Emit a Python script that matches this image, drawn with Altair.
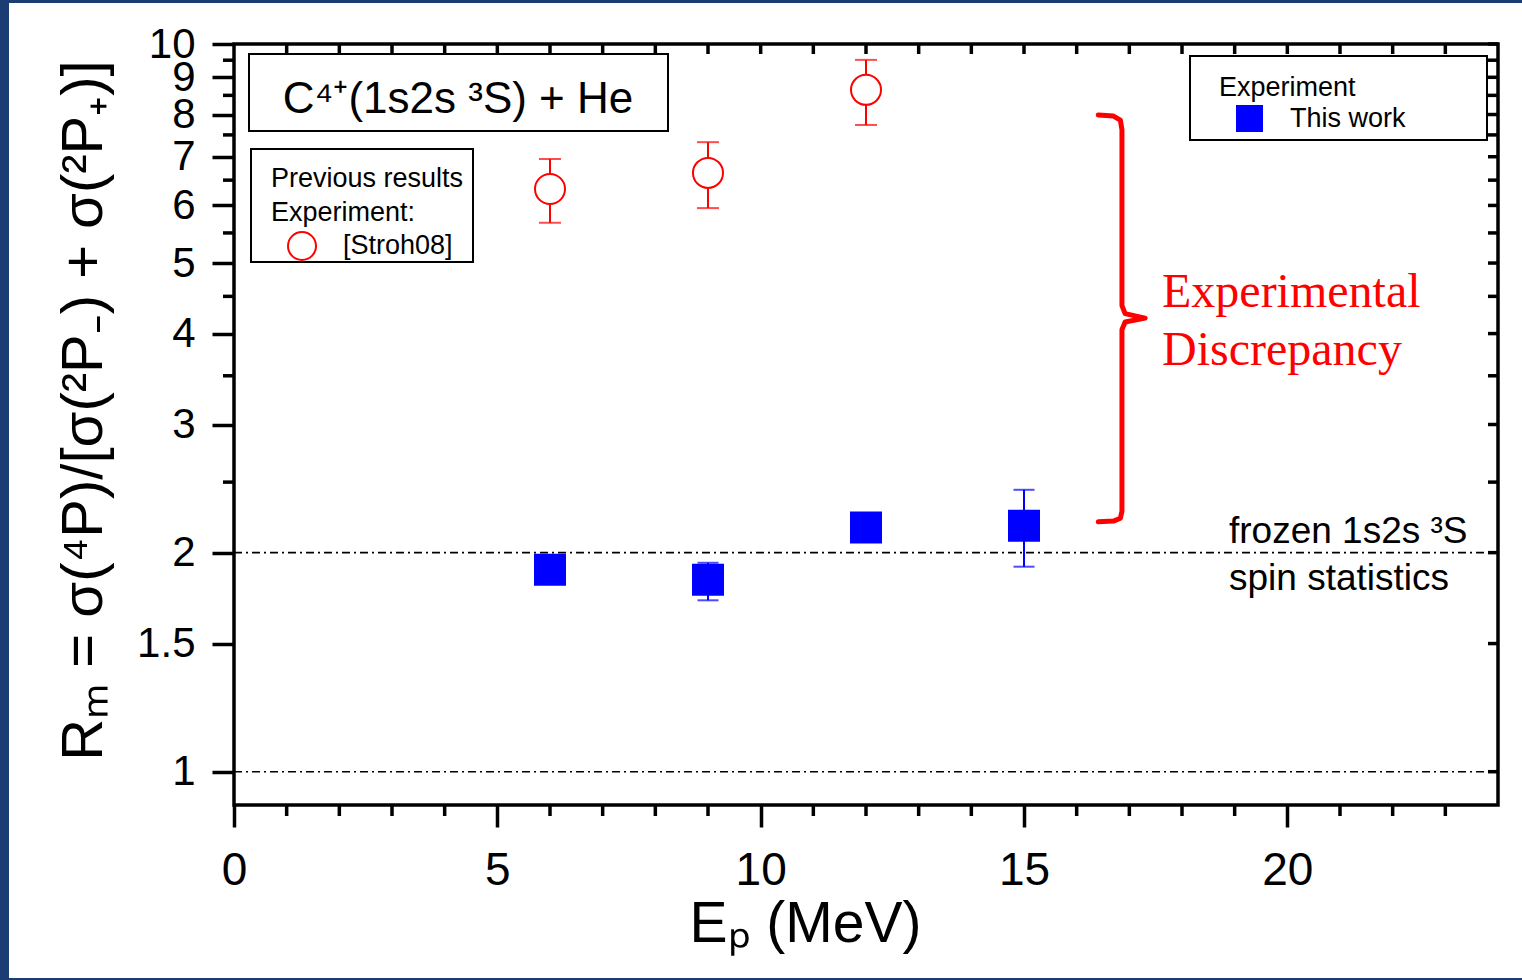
import altair as alt
import pandas as pd

# ---------------- data ----------------
stroh_E = [6, 9, 12]
stroh_R = [6.32, 6.65, 8.65]
stroh_lo = [5.68, 5.95, 7.74]
stroh_hi = [6.95, 7.33, 9.51]

this_E = [6, 9, 12, 15]
this_R = [1.895, 1.835, 2.165, 2.177]
this_lo = [1.85, 1.72, 2.12, 1.913]
this_hi = [1.94, 1.937, 2.21, 2.44]

ref_levels = [1, 2]

x_major = [0, 5, 10, 15, 20]
x_minor = [1, 2, 3, 4, 6, 7, 8, 9, 11, 12, 13, 14, 16, 17, 18, 19, 21, 22, 23]
x_top = [1, 2, 3, 4, 5, 6, 7, 8, 9, 10, 11, 12, 13, 14, 15, 16, 17, 18, 19, 20, 21, 22, 23]
y_major = [1, 1.5, 2, 3, 4, 5, 6, 7, 8, 9, 10]
y_minor = [2.5, 3.5, 4.5, 5.5, 6.5, 7.5, 8.5, 9.5]

brace_x = [16.41, 16.70, 16.83, 16.86, 16.86, 16.92, 17.30, 16.92, 16.86, 16.86, 16.83, 16.70, 16.41]
brace_y = [7.99, 7.96, 7.86, 7.62, 4.37, 4.26, 4.20, 4.15, 4.05, 2.28, 2.23, 2.21, 2.205]

W, H = 1264, 761
SANS = "Liberation Sans"
SERIF = "Liberation Serif"

xs = alt.Scale(domain=[0, 24], nice=False, zero=False)
ys = alt.Scale(type="log", domain=[0.9, 10], nice=False)

xaxis = alt.Axis(values=x_major, format="~g", tickSize=22, labelFontSize=46,
                 labelPadding=21, labelFlush=False, labelOverlap=False,
                 title="Eₚ (MeV)", titleFontSize=57, titleX=571, titleY=136,
                 titleAlign="center", titleBaseline="alphabetic")
yaxis = alt.Axis(values=y_major, format="~g", tickSize=22, labelFontSize=42,
                 labelPadding=17, labelOverlap=False,
                 title="Rₘ = σ(⁴P)/[σ(²P₋) + σ(²P₊)]", titleFontSize=58,
                 titleAngle=270, titleX=-133, titleY=366, titleAlign="center",
                 titleBaseline="alphabetic")


def X(f):
    return alt.X(f, type="quantitative", scale=xs, axis=xaxis)


def Y(f):
    return alt.Y(f, type="quantitative", scale=ys, axis=yaxis)


one = pd.DataFrame({"a": [0]})

stroh = pd.DataFrame({"x": stroh_E, "y": stroh_R, "lo": stroh_lo, "hi": stroh_hi,
                      "s": ["[Stroh08]"] * len(stroh_E)})
this = pd.DataFrame({"x": this_E, "y": this_R, "lo": this_lo, "hi": this_hi,
                     "s": ["This work"] * len(this_E)})

# blue frame strips (page decoration)
strips = [
    alt.Chart(one).mark_rect(color="#1c3c74").encode(
        x=alt.value(-234), x2=alt.value(-225), y=alt.value(-44), y2=alt.value(936)),
    alt.Chart(one).mark_rect(color="#1c3c74").encode(
        x=alt.value(-234), x2=alt.value(1288), y=alt.value(-44), y2=alt.value(-41)),
    alt.Chart(one).mark_rect(color="#1c3c74").encode(
        x=alt.value(-234), x2=alt.value(1288), y=alt.value(934), y2=alt.value(936)),
]

# reference dash-dot lines
refl = alt.Chart(pd.DataFrame({"y": ref_levels})).mark_rule(
    color="black", strokeWidth=1.6, strokeDash=[8, 4, 2, 4]).encode(
    y=Y("y"), x=alt.value(0), x2=alt.value(W))

# minor ticks and inward ticks
tick_w = 3.5
left_minor = alt.Chart(pd.DataFrame({"y": y_minor})).mark_rule(
    color="black", strokeWidth=tick_w).encode(y=Y("y"), x=alt.value(-11), x2=alt.value(0))
right_ticks = alt.Chart(pd.DataFrame({"y": y_major + y_minor})).mark_rule(
    color="black", strokeWidth=tick_w).encode(y=Y("y"), x=alt.value(W - 10), x2=alt.value(W))
bottom_minor = alt.Chart(pd.DataFrame({"x": x_minor})).mark_rule(
    color="black", strokeWidth=tick_w).encode(x=X("x"), y=alt.value(H), y2=alt.value(H + 11))
top_ticks = alt.Chart(pd.DataFrame({"x": x_top})).mark_rule(
    color="black", strokeWidth=tick_w).encode(x=X("x"), y=alt.value(0), y2=alt.value(10))

# brace
brace = alt.Chart(pd.DataFrame({"x": brace_x, "y": brace_y, "o": list(range(len(brace_x)))})).mark_line(
    color="#ff0000", strokeWidth=5, strokeCap="round", strokeJoin="round").encode(
    x=X("x"), y=Y("y"), order="o:Q")

# error bars
red_bar = alt.Chart(stroh).mark_rule(color="#ff0000", strokeWidth=2).encode(
    x=X("x"), y=Y("lo"), y2="hi")
red_cap_lo = alt.Chart(stroh).mark_tick(color="#ff0000", orient="horizontal", size=22, thickness=2).encode(
    x=X("x"), y=Y("lo"))
red_cap_hi = alt.Chart(stroh).mark_tick(color="#ff0000", orient="horizontal", size=22, thickness=2).encode(
    x=X("x"), y=Y("hi"))
blue_bar = alt.Chart(this).mark_rule(color="#0000ff", strokeWidth=2).encode(
    x=X("x"), y=Y("lo"), y2="hi")
blue_cap_lo = alt.Chart(this).mark_tick(color="#0000ff", orient="horizontal", size=21, thickness=2).encode(
    x=X("x"), y=Y("lo"))
blue_cap_hi = alt.Chart(this).mark_tick(color="#0000ff", orient="horizontal", size=21, thickness=2).encode(
    x=X("x"), y=Y("hi"))

# markers with legends
red_pts = alt.Chart(stroh).mark_point(shape="circle", filled=False, fill="white", fillOpacity=1,
                                      size=900, strokeWidth=2, opacity=1).encode(
    x=X("x"), y=Y("y"),
    stroke=alt.Stroke("s:N", scale=alt.Scale(domain=["[Stroh08]"], range=["#ff0000"]),
                      legend=alt.Legend(title=["Previous results", "Experiment:"], orient="none",
                                        legendX=37, legendY=122, padding=0, titleLimit=400,
                                        titleFont=SANS, titleFontSize=27, titleFontWeight="normal",
                                        titleLineHeight=34, titlePadding=4, titleColor="black",
                                        labelFont=SANS, labelFontSize=27, labelColor="black",
                                        symbolType="circle", symbolSize=784, symbolStrokeWidth=2,
                                        symbolFillColor="white", symbolOffset=16, labelOffset=26)))
blue_pts = alt.Chart(this).mark_point(shape="square", filled=True, size=1024, opacity=1).encode(
    x=X("x"), y=Y("y"),
    color=alt.Color("s:N", scale=alt.Scale(domain=["This work"], range=["#0000ff"]),
                    legend=alt.Legend(title="Experiment", orient="none",
                                      legendX=985, legendY=31, padding=0, titleLimit=400,
                                      titleFont=SANS, titleFontSize=27, titleFontWeight="normal",
                                      titlePadding=3, titleColor="black",
                                      labelFont=SANS, labelFontSize=27, labelColor="black",
                                      symbolType="square", symbolSize=729, symbolStrokeWidth=0,
                                      symbolOffset=17, labelOffset=27)))

# annotation boxes
def box(x0, x1, y0, y1):
    return alt.Chart(one).mark_rect(fill="white", stroke="black", strokeWidth=2).encode(
        x=alt.value(x0), x2=alt.value(x1), y=alt.value(y0), y2=alt.value(y1))

boxes = [box(15, 434, 10, 87), box(956, 1253, 12, 96), box(17, 239, 105, 218)]

# texts
title_txt = alt.Chart(pd.DataFrame({"t": ["C⁴⁺(1s2s ³S) + He"]})).mark_text(
    font=SANS, fontSize=44, color="black", align="center", baseline="alphabetic").encode(
    text="t:N", x=alt.value(224), y=alt.value(69))
disc_txt = alt.Chart(pd.DataFrame({"t": ["Experimental\nDiscrepancy"]})).mark_text(
    font=SERIF, fontSize=48, color="#ff0000", align="left", baseline="alphabetic",
    lineBreak="\n", lineHeight=58).encode(
    text="t:N", x=alt.value(928), y=alt.value(263))
frozen_txt = alt.Chart(pd.DataFrame({"t": ["frozen 1s2s ³S\nspin statistics"]})).mark_text(
    font=SANS, fontSize=37, color="black", align="left", baseline="alphabetic",
    lineBreak="\n", lineHeight=47).encode(
    text="t:N", x=alt.value(995), y=alt.value(499))

chart = alt.layer(
    *strips, *boxes, refl, left_minor, right_ticks, bottom_minor, top_ticks, brace,
    red_bar, red_cap_lo, red_cap_hi, blue_bar, blue_cap_lo, blue_cap_hi,
    red_pts, blue_pts, title_txt, disc_txt, frozen_txt
).resolve_scale(color="independent", stroke="independent").properties(
    width=W, height=H,
    autosize=alt.AutoSizeParams(type="none"),
    padding={"left": 234, "top": 44, "right": 24, "bottom": 175},
    background="white",
).configure_view(stroke="black", strokeWidth=3.5).configure_axis(
    grid=False, domain=False, tickColor="black", tickWidth=3.5,
    labelColor="black", titleColor="black", labelFont=SANS, titleFont=SANS,
    titleFontWeight="normal")

chart.save("out.html", embed_options={"renderer": "svg", "actions": False})
